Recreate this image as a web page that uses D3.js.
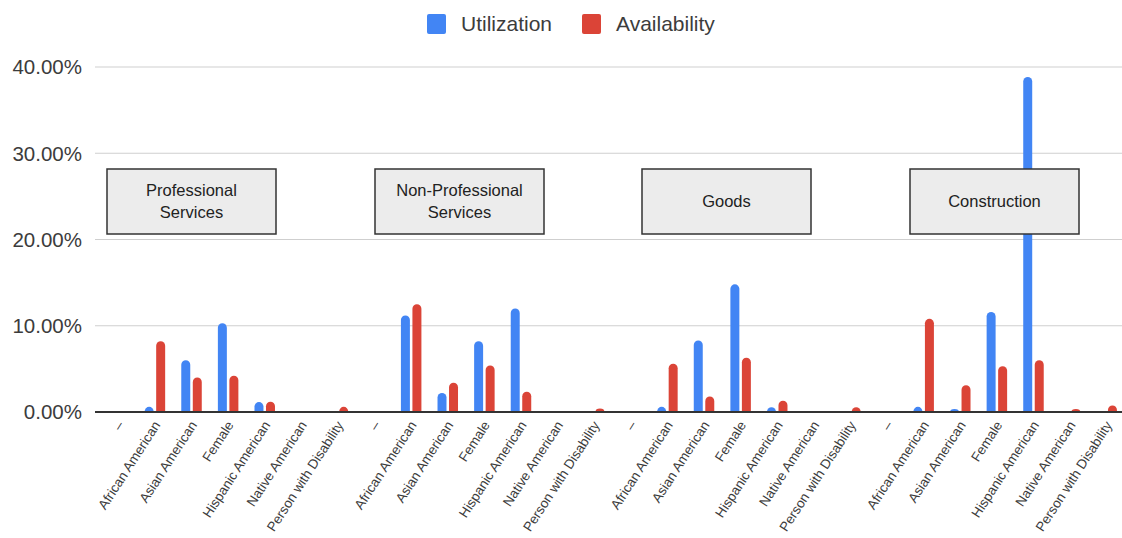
<!DOCTYPE html>
<html>
<head>
<meta charset="utf-8">
<script src="https://cdn.jsdelivr.net/npm/d3@7"></script>
<style>
  html, body { margin: 0; padding: 0; background: #fff; }
  svg { display: block; font-family: Arial, "Liberation Sans", sans-serif; }
</style>
</head>
<body>
<svg id="chart" width="1122" height="538"></svg>
<script>
// Procurement sectors, each with seven demographic categories
const sectors = ["Professional Services", "Non-Professional Services", "Goods", "Construction"];
const groups = ["–", "African American", "Asian American", "Female", "Hispanic American", "Native American", "Person with Disability"];

// Utilization (%) per sector, in the order of `groups`
const utilProfessional    = [0, 0.6, 6.0, 10.3, 1.15, 0.05, 0];
const utilNonProfessional = [0, 11.2, 2.2, 8.2, 12.0, 0.05, 0];
const utilGoods           = [0, 0.6, 8.3, 14.8, 0.55, 0, 0];
const utilConstruction    = [0, 0.6, 0.35, 11.6, 38.85, 0, 0];

// Availability (%) per sector, in the order of `groups`
const availProfessional    = [0, 8.2, 4.0, 4.2, 1.2, 0.05, 0.6];
const availNonProfessional = [0, 12.5, 3.4, 5.4, 2.35, 0.05, 0.4];
const availGoods           = [0, 5.6, 1.8, 6.3, 1.3, 0.05, 0.55];
const availConstruction    = [0, 10.8, 3.1, 5.3, 6.0, 0.35, 0.75];

const yTicks = [0, 10, 20, 30, 40];
const seriesNames = ["Utilization", "Availability"];
const seriesColors = ["#4285f4", "#db4437"];

// Sector label boxes (callouts drawn over the plot)
const boxLines = [["Professional", "Services"], ["Non-Professional", "Services"], ["Goods"], ["Construction"]];

const util = [utilProfessional, utilNonProfessional, utilGoods, utilConstruction];
const avail = [availProfessional, availNonProfessional, availGoods, availConstruction];

const rows = [];
sectors.forEach((s, si) => {
  groups.forEach((g, gi) => {
    rows.push({ key: si + "|" + gi, label: g, values: [util[si][gi], avail[si][gi]] });
  });
});

const svg = d3.select("#chart");
const margin = { left: 100, right: -3, top: 67, bottom: 126 };
const W = 1122, H = 538;

const x = d3.scaleBand()
  .domain(rows.map(d => d.key))
  .range([margin.left, W - margin.right])
  .paddingInner(0).paddingOuter(0);

const y = d3.scaleLinear().domain([0, 40]).range([H - margin.bottom, margin.top]);

const barW = 8, barGap = 4.5;
const sub = d3.scaleBand().domain([0, 1]).range([0, barW * 2 + barGap]).paddingInner(barGap / (barW * 2 + barGap));

// Gridlines
svg.append("g").selectAll("line")
  .data(yTicks.filter(t => t !== 0))
  .join("line")
  .attr("x1", 95).attr("x2", 1122)
  .attr("y1", d => y(d)).attr("y2", d => y(d))
  .attr("stroke", "#cfcfcf").attr("stroke-width", 1.2);

// Y axis labels
svg.append("g").selectAll("text")
  .data(yTicks)
  .join("text")
  .attr("x", 82).attr("y", d => y(d))
  .attr("dy", "0.36em")
  .attr("text-anchor", "end")
  .attr("font-size", 20.5)
  .attr("fill", "#3c3c3c")
  .text(d => d3.format(".2f")(d) + "%");

// Rounded-top bar path
function barPath(x0, w, yTop, yBase) {
  const h = yBase - yTop;
  if (h <= 0) return "";
  const r = Math.min(w / 2, h);
  return `M${x0},${yBase}V${yTop + r}A${w / 2},${r} 0 0 1 ${x0 + w},${yTop + r}V${yBase}Z`;
}

const barsG = svg.append("g");
rows.forEach(row => {
  const cx = x(row.key) + x.bandwidth() / 2;
  const start = cx - (barW * 2 + barGap) / 2;
  row.values.forEach((v, i) => {
    if (v <= 0) return;
    barsG.append("path")
      .attr("d", barPath(start + sub(i), sub.bandwidth(), y(v), y(0)))
      .attr("fill", seriesColors[i]);
  });
});

// Baseline
svg.append("line")
  .attr("x1", 95).attr("x2", 1122)
  .attr("y1", y(0)).attr("y2", y(0))
  .attr("stroke", "#333").attr("stroke-width", 2);

// Category labels, rotated
svg.append("g").selectAll("text")
  .data(rows)
  .join("text")
  .attr("text-anchor", "end")
  .attr("font-size", 13.5)
  .attr("fill", "#3c3c3c")
  .attr("transform", d => {
    const cx = x(d.key) + x.bandwidth() / 2 + 6;
    return `translate(${cx},${y(0) + 13}) rotate(-57)`;
  })
  .text(d => d.label);

// Sector callout boxes
const boxX = [107, 375, 642, 910];
const boxW = 169, boxTop = 169, boxH = 65;
const boxes = svg.append("g").selectAll("g")
  .data(sectors)
  .join("g")
  .attr("transform", (d, i) => `translate(${boxX[i]},${boxTop})`);
boxes.append("rect")
  .attr("width", boxW).attr("height", boxH)
  .attr("fill", "#ececec").attr("stroke", "#333").attr("stroke-width", 1.5);
boxes.append("text")
  .attr("text-anchor", "middle")
  .attr("font-size", 16.5)
  .attr("fill", "#222")
  .each(function(d, i) {
    const lines = boxLines[i];
    const t = d3.select(this);
    const lh = 22;
    const y0 = boxH / 2 - (lines.length - 1) * lh / 2;
    lines.forEach((ln, k) => {
      t.append("tspan").attr("x", boxW / 2).attr("y", y0 + k * lh).attr("dy", "0.35em").text(ln);
    });
  });

// Legend
const legendX = [427, 582];
const legend = svg.append("g").selectAll("g")
  .data(seriesNames)
  .join("g")
  .attr("transform", (d, i) => `translate(${legendX[i]},14)`);
legend.append("rect")
  .attr("width", 19).attr("height", 20).attr("rx", 2)
  .attr("fill", (d, i) => seriesColors[i]);
legend.append("text")
  .attr("x", 34).attr("y", 10).attr("dy", "0.35em")
  .attr("font-size", 21)
  .attr("fill", "#3c3c3c")
  .text(d => d);
</script>
</body>
</html>
